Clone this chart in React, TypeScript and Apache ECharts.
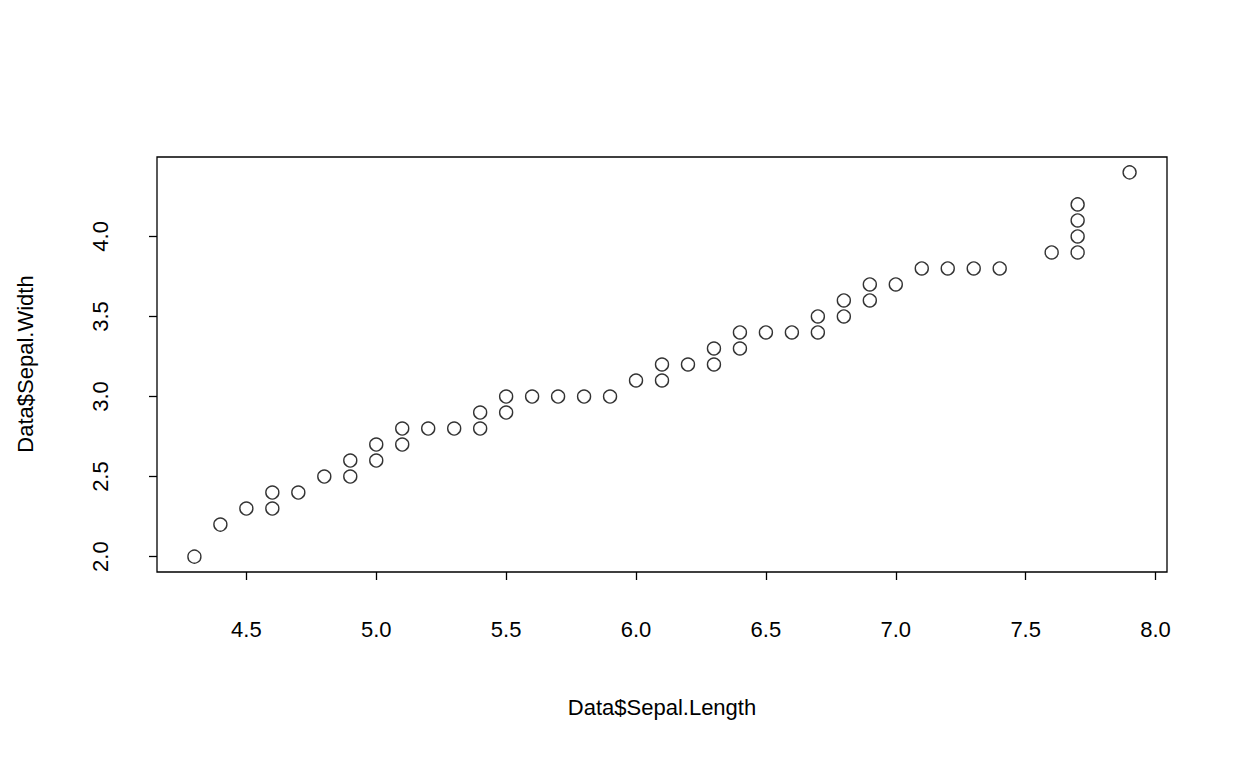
import { useEffect, useRef } from 'react';
import * as echarts from 'echarts';

// sorted Sepal.Length vs sorted Sepal.Width (visible pairs)
const sepalLength = [4.3, 4.4, 4.5, 4.6, 4.6, 4.7, 4.8, 4.9, 4.9, 5.0, 5.0, 5.1, 5.1, 5.2, 5.3, 5.4, 5.4, 5.5, 5.5, 5.6, 5.7, 5.8, 5.9, 6.0, 6.1, 6.1, 6.2, 6.3, 6.3, 6.4, 6.4, 6.5, 6.6, 6.7, 6.7, 6.8, 6.8, 6.9, 6.9, 7.0, 7.1, 7.2, 7.3, 7.4, 7.6, 7.7, 7.7, 7.7, 7.7, 7.9];
const sepalWidth = [2.0, 2.2, 2.3, 2.3, 2.4, 2.4, 2.5, 2.5, 2.6, 2.6, 2.7, 2.7, 2.8, 2.8, 2.8, 2.8, 2.9, 2.9, 3.0, 3.0, 3.0, 3.0, 3.0, 3.1, 3.1, 3.2, 3.2, 3.2, 3.3, 3.3, 3.4, 3.4, 3.4, 3.4, 3.5, 3.5, 3.6, 3.6, 3.7, 3.7, 3.8, 3.8, 3.8, 3.8, 3.9, 3.9, 4.0, 4.1, 4.2, 4.4];
const xTicks = [4.5, 5.0, 5.5, 6.0, 6.5, 7.0, 7.5, 8.0];
const yTicks = [2.0, 2.5, 3.0, 3.5, 4.0];

const font = 'Liberation Sans';

export default function App() {
  const ref = useRef<HTMLDivElement>(null);

  useEffect(() => {
    if (!ref.current) return;
    const chart = echarts.init(ref.current, null, { renderer: 'svg' });
    chart.setOption({
      animation: false,
      backgroundColor: '#fff',
      grid: { left: 157, right: 81, top: 157, bottom: 196, show: true, borderColor: '#000', borderWidth: 1.3, backgroundColor: 'transparent' },
      xAxis: {
        type: 'value', min: 4.156, max: 8.044,
        splitLine: { show: false },
        axisLine: { show: false },
        axisTick: { show: true, customValues: xTicks, length: 8, lineStyle: { color: '#000', width: 1.3 } },
        axisLabel: { customValues: xTicks, formatter: (v: number) => v.toFixed(1), color: '#000', fontSize: 22, fontFamily: font, margin: 46 },
      },
      yAxis: {
        type: 'value', min: 1.904, max: 4.496,
        splitLine: { show: false },
        axisLine: { show: false },
        axisTick: { show: true, customValues: yTicks, length: 8, lineStyle: { color: '#000', width: 1.3 } },
        axisLabel: { customValues: yTicks, formatter: (v: number) => v.toFixed(1), rotate: 90, color: '#000', fontSize: 22, fontFamily: font, margin: 46 },
      },
      graphic: [
        { type: 'text', x: 662, y: 707, style: { text: 'Data$Sepal.Length', fontSize: 22, fontFamily: font, fill: '#000', align: 'center', verticalAlign: 'middle' } },
        { type: 'text', x: 25, y: 364, rotation: Math.PI / 2, style: { text: 'Data$Sepal.Width', fontSize: 22, fontFamily: font, fill: '#000', align: 'center', verticalAlign: 'middle' } },
      ],
      series: [{
        type: 'scatter',
        data: sepalLength.map((x, i) => [x, sepalWidth[i]]),
        symbol: 'circle', symbolSize: 13,
        itemStyle: { color: 'transparent', borderColor: '#000', borderWidth: 1.4 },
      }],
    });
    return () => chart.dispose();
  }, []);

  return <div ref={ref} style={{ position: 'absolute', left: 0, top: 0, width: 1248, height: 768 }} />;
}
